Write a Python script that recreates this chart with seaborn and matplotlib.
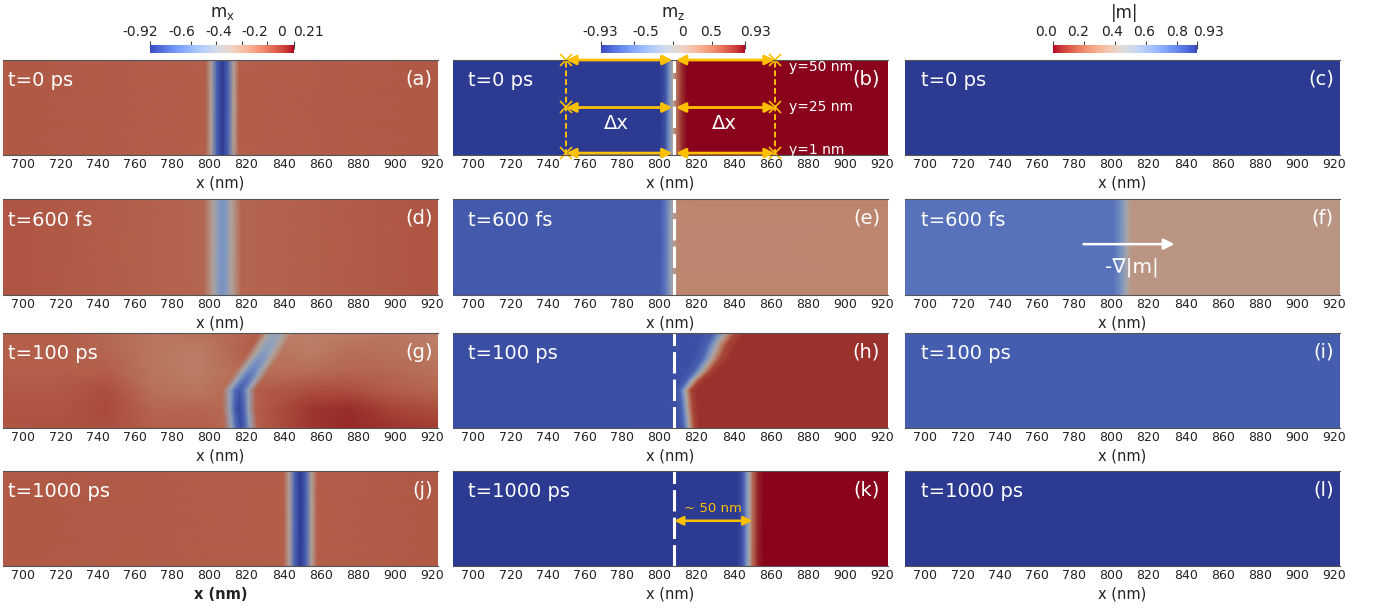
import numpy as np
import matplotlib
matplotlib.use("Agg")
import matplotlib.pyplot as plt
import seaborn as sns
from matplotlib.colors import ListedColormap, Normalize
from matplotlib.cm import ScalarMappable

sns.set_style("white")
plt.rcParams['font.family'] = ['DejaVu Sans']

# ---------------- data ----------------
x_lim = (689, 923)
x_ticks = list(range(700, 921, 20))
y_span = [0, 50]

times = ['t=0 ps', 't=600 fs', 't=100 ps', 't=1000 ps']
letters = ['(a)', '(b)', '(c)', '(d)', '(e)', '(f)',
           '(g)', '(h)', '(i)', '(j)', '(k)', '(l)']

# t = 0 ps
x_a = [689, 798, 801, 804, 807, 810, 813, 816, 923]
mx_a = [0.02, 0.0, -0.3, -0.78, -0.92, -0.78, -0.3, 0.0, 0.02]
x_b = [689, 800, 803, 805, 807, 809, 812, 815, 923]
mz_b = [-0.93, -0.93, -0.8, -0.45, 0.0, 0.45, 0.8, 0.93, 0.93]
x_c = [689, 923]
m_c = [0.93, 0.93]

# t = 600 fs
x_d = [689, 797, 802, 805, 807, 809, 812, 817, 923]
mx_d = [0.03, -0.02, -0.3, -0.52, -0.58, -0.52, -0.3, -0.02, 0.03]
x_e = [689, 800, 803, 806, 808, 810, 923]
mz_e = [-0.75, -0.75, -0.6, -0.2, 0.2, 0.35, 0.36]
x_f = [689, 801, 805, 808, 810, 812, 923]
m_f = [0.77, 0.77, 0.66, 0.5, 0.38, 0.35, 0.35]

# t = 100 ps : tilted wall, rows from bottom (y=0) to top (y=50)
y_g = [0, 10, 20, 30, 40, 50]
wall_g = [817, 816, 816, 823, 830, 836]
left_g = [689, 720, 745, 770, 795]
offs_g = [-9, -5, -2.5, 0, 2.5, 5, 9]
right_g = [855, 875, 900, 923]
mx_g = [
    [0.03, 0.04, 0.05, 0.00, 0.00, -0.02, -0.45, -0.75, -0.85, -0.75, -0.45, 0.00, 0.12, 0.15, 0.12, 0.10],
    [0.03, 0.03, 0.06, -0.02, -0.02, -0.03, -0.45, -0.78, -0.88, -0.78, -0.45, 0.00, 0.12, 0.14, 0.08, 0.05],
    [0.02, 0.02, 0.05, -0.06, -0.08, -0.05, -0.45, -0.72, -0.82, -0.72, -0.45, 0.00, 0.05, 0.05, 0.00, -0.02],
    [0.00, 0.00, 0.00, -0.08, -0.10, -0.05, -0.38, -0.58, -0.66, -0.58, -0.38, -0.05, -0.05, -0.02, -0.03, -0.06],
    [0.00, 0.00, -0.02, -0.08, -0.10, 0.00, -0.30, -0.46, -0.52, -0.46, -0.30, -0.08, -0.10, -0.05, -0.06, -0.10],
    [0.00, 0.00, -0.03, -0.08, -0.06, 0.00, -0.28, -0.42, -0.46, -0.42, -0.28, -0.10, -0.12, -0.10, -0.08, -0.12],
]
y_h = [0, 10, 20, 25, 30, 37, 44, 50]
wall_h = [816, 815, 814, 818, 823, 828, 831, 835]
spread_h = [1.0, 1.0, 1.0, 1.2, 1.5, 1.7, 1.8, 2.0]
left_h = [689, 760]
offs_h = [-6, -3, -1.5, 0, 1.5, 3, 6]
right_h = [870, 923]
mz_h = [-0.82, -0.82, -0.8, -0.7, -0.4, 0.0, 0.4, 0.7, 0.8, 0.8, 0.8]
x_i = [689, 923]
m_i = [0.83, 0.83]

# t = 1000 ps
x_j = [689, 840, 843, 846, 849, 852, 855, 858, 923]
mx_j = [0.02, 0.0, -0.3, -0.78, -0.92, -0.78, -0.3, 0.0, 0.02]
x_k = [689, 842, 845, 847, 848.5, 850, 853, 856, 923]
mz_k = [-0.93, -0.93, -0.75, -0.35, 0.0, 0.5, 0.85, 0.93, 0.93]
x_l = [689, 923]
m_l = [0.93, 0.93]

# annotations
wall_line = 808
dx_left = [750, 807]
dx_right = [809, 862]
y_cuts = [50, 25, 1]
cut_labels = ['y=50 nm', 'y=25 nm', 'y=1 nm']
grad_arrow = [785, 834]
shift_arrow = [808, 850]

# colour bars
cb_titles = [r'$\mathregular{m_x}$', r'$\mathregular{m_z}$', '|m|']
cb_ticks = [[-0.92, -0.6, -0.4, -0.2, 0, 0.21],
            [-0.93, -0.5, 0, 0.5, 0.93],
            [0.0, 0.2, 0.4, 0.6, 0.8, 0.93]]
cb_labels = [['-0.92', '-0.6', '-0.4', '-0.2', '0', '0.21'],
             ['-0.93', '-0.5', '0', '0.5', '0.93'],
             ['0.0', '0.2', '0.4', '0.6', '0.8', '0.93']]
# label centres as placed in the picture (pixels), spread to avoid overlap
cb_label_px = [[140, 181.7, 218.5, 255, 281.7, 309],
               [600, 646, 682.5, 711, 755],
               [1046, 1078, 1112, 1144, 1177, 1209]]

# ---------------- colours ----------------
YEL = '#FFC000'
cw = sns.color_palette("coolwarm", as_cmap=True)
shade = cw(np.linspace(0, 1, 256))
shade[:, :3] *= 0.76          # rendered panels look darker than the bar
cmap_panel = ListedColormap(shade)
cmap_panel_r = cmap_panel.reversed()
cw_r = cw.reversed()

norms = [Normalize(-0.92, 0.21), Normalize(-0.93, 0.93), Normalize(0, 0.93)]
panel_cmaps = [cmap_panel, cmap_panel, cmap_panel_r]
bar_cmaps = [cw, cw, cw_r]


def straight(x, v):
    X = np.tile(np.asarray(x, float), (2, 1))
    Y = np.array([[y_span[0]] * len(x), [y_span[1]] * len(x)], float)
    C = np.tile(np.asarray(v, float), (2, 1))
    return X, Y, C


def tilted(rows, centers, left, offs, right, vals, spread=None):
    X, Y = [], []
    for i, (y, c) in enumerate(zip(rows, centers)):
        s = 1.0 if spread is None else spread[i]
        X.append(left + [c + o * s for o in offs] + right)
        Y.append([y] * (len(left) + len(offs) + len(right)))
    C = np.asarray(vals, float)
    if C.ndim == 1:
        C = np.tile(C, (len(rows), 1))
    return np.array(X, float), np.array(Y, float), C


fields = [
    straight(x_a, mx_a), straight(x_b, mz_b), straight(x_c, m_c),
    straight(x_d, mx_d), straight(x_e, mz_e), straight(x_f, m_f),
    tilted(y_g, wall_g, left_g, offs_g, right_g, mx_g),
    tilted(y_h, wall_h, left_h, offs_h, right_h, mz_h, spread_h),
    straight(x_i, m_i),
    straight(x_j, mx_j), straight(x_k, mz_k), straight(x_l, m_l),
]

# ---------------- layout (pixels of a 1388x610 canvas) ----------------
W, H = 1388, 610
col_left = [3, 453, 905]
col_width = 435
row_bottom = [155, 294.5, 428, 566]
row_height = 95
t_xpos = [0.012, 0.035, 0.037]
lab_xpos = [0.988, 0.982, 0.986]

fig = plt.figure(figsize=(W / 100, H / 100), dpi=100)

axes = []
for r in range(4):
    for c in range(3):
        ax = fig.add_axes([col_left[c] / W, 1 - row_bottom[r] / H,
                           col_width / W, row_height / H])
        X, Y, C = fields[3 * r + c]
        ax.pcolormesh(X, Y, C, cmap=panel_cmaps[c], norm=norms[c],
                      shading='gouraud', rasterized=True)
        ax.set_xlim(*x_lim)
        ax.set_ylim(*y_span)
        ax.set_xticks(x_ticks)
        ax.set_yticks([])
        ax.tick_params(axis='x', length=0, pad=2.5, labelsize=9,
                       labelcolor='#222222')
        for s in ['left', 'right']:
            ax.spines[s].set_visible(False)
        for s in ['top', 'bottom']:
            ax.spines[s].set_color('#555555')
            ax.spines[s].set_linewidth(0.8)
        bold = 'bold' if (r == 3 and c == 0) else 'normal'
        ax.set_xlabel('x (nm)', fontsize=10.5, labelpad=3,
                      color='#222222', fontweight=bold)
        ax.text(t_xpos[c], 0.78, times[r], transform=ax.transAxes,
                color='white', fontsize=14, va='center', ha='left')
        ax.text(lab_xpos[c], 0.80, letters[3 * r + c], transform=ax.transAxes,
                color='white', fontsize=14, va='center', ha='right')
        axes.append(ax)

# white dashed reference line in the m_z panels
for idx in [1, 4, 7, 10]:
    axes[idx].axvline(wall_line, color='white', lw=2.2, dashes=(7, 2))

# panel (b): measuring arrows
ax = axes[1]
for xv in [dx_left[0], dx_right[1]]:
    ax.plot([xv, xv], y_span, color=YEL, lw=1.4, dashes=(3, 1.5))
for yv in y_cuts:
    for seg in (dx_left, dx_right):
        ax.annotate('', xy=(seg[0], yv), xytext=(seg[1], yv),
                    annotation_clip=False,
                    arrowprops=dict(arrowstyle='<|-|>', color=YEL, lw=2,
                                    mutation_scale=14, shrinkA=0, shrinkB=0))
ax.plot([dx_left[0]] * 3 + [dx_right[1]] * 3, y_cuts * 2, 'x', color=YEL,
        ms=8, mew=1.2, clip_on=False)
ax.text(777, 16.5, 'Δx', color='white', fontsize=14, ha='center', va='center')
ax.text(835, 16.5, 'Δx', color='white', fontsize=14, ha='center', va='center')
for yv, lab in zip([46.5, 25.5, 2.8], cut_labels):
    ax.text(870, yv, lab, color='white', fontsize=10, ha='left', va='center')

# panel (f): gradient arrow
ax = axes[5]
ax.annotate('', xy=(grad_arrow[1], 26.5), xytext=(grad_arrow[0], 26.5),
            arrowprops=dict(arrowstyle='-|>', color='white', lw=1.8,
                            mutation_scale=16, shrinkA=0, shrinkB=0))
ax.text(811, 14.5, '-∇|m|', color='white', fontsize=14.5, ha='center', va='center')

# panel (k): displacement
ax = axes[10]
ax.annotate('', xy=(shift_arrow[0], 23.8), xytext=(shift_arrow[1], 23.8),
            arrowprops=dict(arrowstyle='<|-|>', color=YEL, lw=1.8,
                            mutation_scale=13, shrinkA=0, shrinkB=0))
ax.text(829, 30, '~ 50 nm', color=YEL, fontsize=9.5, ha='center', va='center')

# colour bars on top
cb_left = [150, 601, 1053]
for c in range(3):
    cax = fig.add_axes([cb_left[c] / W, 1 - 53 / H, 144 / W, 8 / H])
    sm = ScalarMappable(norm=norms[c], cmap=bar_cmaps[c])
    cb = fig.colorbar(sm, cax=cax, orientation='horizontal', ticks=cb_ticks[c])
    cb.outline.set_visible(False)
    cax.xaxis.set_ticks_position('top')
    cb.set_ticklabels([''] * len(cb_ticks[c]))
    cax.tick_params(axis='x', direction='inout', length=6, width=0.8,
                    color='#444444', pad=1.5)
    for px, lab in zip(cb_label_px[c], cb_labels[c]):
        fig.text(px / W, 1 - 32 / H, lab, fontsize=10, ha='center',
                 va='center', color='#222222')
    fig.text((cb_left[c] + 72) / W, 1 - 13 / H, cb_titles[c], fontsize=12,
             ha='center', va='center', color='#222222')

fig.savefig('out.png', dpi=100)
